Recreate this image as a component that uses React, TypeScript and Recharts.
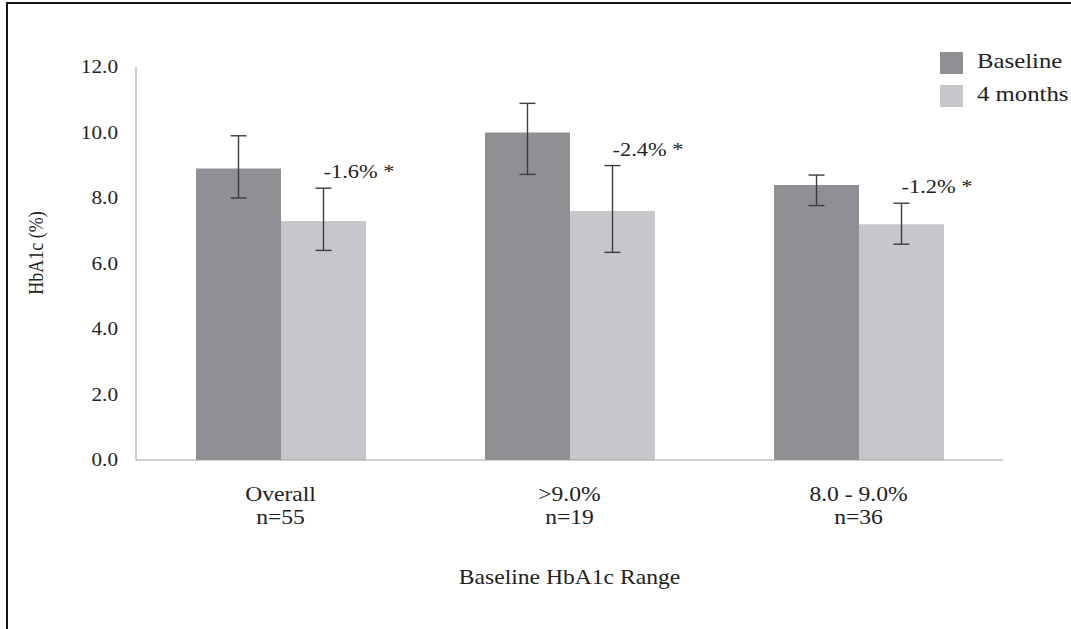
import React from 'react';
import { BarChart, Bar, XAxis, YAxis, ErrorBar, Legend, LabelList, Label } from 'recharts';

const categories = ['Overall', '>9.0%', '8.0 - 9.0%'];
const sampleSizes = ['n=55', 'n=19', 'n=36'];
const baselineValues = [8.9, 10.0, 8.4];
const baselineErrors: [number, number][] = [[0.9, 1.0], [1.28, 0.89], [0.63, 0.3]];
const monthValues = [7.3, 7.6, 7.2];
const monthErrors: [number, number][] = [[0.9, 1.0], [1.26, 1.39], [0.61, 0.64]];
const changeLabels = ['-1.6% *', '-2.4% *', '-1.2% *'];
const yTicks = [0, 2, 4, 6, 8, 10, 12];
const seriesNames = ['Baseline', '4 months'];

const BASE_COLOR = '#8f9094';
const MONTH_COLOR = '#c6c7ca';
const TEXT_COLOR = '#222';
const AXIS_COLOR = '#a0a0a0';
const ERR_COLOR = '#3c3c3c';
const FONT = '"Liberation Serif", "Times New Roman", serif';
const SX = 1.18;

const data = categories.map((c, i) => ({
  category: c,
  baseline: baselineValues[i],
  baseErr: baselineErrors[i],
  months: monthValues[i],
  monthErr: monthErrors[i],
}));

function STxt({ x, y, size, anchor, children }: any) {
  return (
    <text
      transform={`translate(${x},${y}) scale(${SX},1)`}
      x={0}
      y={0}
      textAnchor={anchor}
      fontFamily={FONT}
      fontSize={size}
      fill={TEXT_COLOR}
    >
      {children}
    </text>
  );
}

const YTick = (props: any) => {
  const { x, y, payload } = props;
  return <STxt x={x} y={y + 6} size={18} anchor="end">{Number(payload.value).toFixed(1)}</STxt>;
};

const XTick = (props: any) => {
  const { x, y, payload } = props;
  const idx = categories.indexOf(payload.value);
  return (
    <g>
      <STxt x={x} y={y + 41} size={20} anchor="middle">{payload.value}</STxt>
      <STxt x={x} y={y + 64} size={20} anchor="middle">{sampleSizes[idx]}</STxt>
    </g>
  );
};

const ChangeLabel = (props: any) => {
  const { x, y, width, height, value, index } = props;
  const pxPerUnit = height / value;
  const errTop = y - monthErrors[index][1] * pxPerUnit;
  return <STxt x={x + width / 2} y={errTop - 10} size={19} anchor="start">{changeLabels[index]}</STxt>;
};

const renderLegend = () => (
  <svg width={140} height={60} style={{ overflow: 'visible' }}>
    <rect x={0} y={0} width={23} height={22} fill={BASE_COLOR} />
    <STxt x={37} y={16} size={21} anchor="start">{seriesNames[0]}</STxt>
    <rect x={0} y={33} width={23} height={22} fill={MONTH_COLOR} />
    <STxt x={37} y={49} size={21} anchor="start">{seriesNames[1]}</STxt>
  </svg>
);

export default function App() {
  return (
    <div style={{ position: 'absolute', left: 0, top: 0, width: 1071, height: 629, background: '#fff', overflow: 'hidden' }}>
      <div
        style={{
          position: 'absolute',
          left: 6,
          top: 2,
          width: 1100,
          height: 700,
          borderTop: '2px solid #151515',
          borderLeft: '2px solid #151515',
        }}
      />
      <BarChart
        width={1071}
        height={629}
        data={data}
        margin={{ top: 67, right: 68, left: 0, bottom: 0 }}
        barGap={0}
        barSize={85}
      >
        <XAxis
          dataKey="category"
          height={169}
          tickLine={false}
          tickSize={0}
          tickMargin={0}
          stroke={AXIS_COLOR}
          tick={<XTick />}
          interval={0}
        >
          <Label
            content={(p: any) => {
              const vb = p.viewBox || {};
              return <STxt x={vb.x + vb.width / 2} y={584} size={20} anchor="middle">Baseline HbA1c Range</STxt>;
            }}
          />
        </XAxis>
        <YAxis
          width={136}
          domain={[0, 12]}
          ticks={yTicks}
          tickLine={false}
          tickSize={0}
          tickMargin={18}
          stroke={AXIS_COLOR}
          tick={<YTick />}
          interval={0}
        >
          <Label
            content={() => (
              <text
                transform={`translate(43,253) scale(${SX},1) rotate(-90)`}
                x={0}
                y={0}
                textAnchor="middle"
                fontFamily={FONT}
                fontSize={18}
                fill={TEXT_COLOR}
              >
                HbA1c (%)
              </text>
            )}
          />
        </YAxis>
        <Legend
          layout="vertical"
          align="center"
          verticalAlign="middle"
          content={renderLegend}
          wrapperStyle={{ left: 940, top: 52, width: 140, height: 60 }}
        />
        <Bar dataKey="baseline" name={seriesNames[0]} fill={BASE_COLOR} isAnimationActive={false}>
          <ErrorBar dataKey="baseErr" width={8} stroke={ERR_COLOR} strokeWidth={1.4} direction="y" />
        </Bar>
        <Bar dataKey="months" name={seriesNames[1]} fill={MONTH_COLOR} isAnimationActive={false}>
          <ErrorBar dataKey="monthErr" width={8} stroke={ERR_COLOR} strokeWidth={1.4} direction="y" />
          <LabelList dataKey="months" content={<ChangeLabel />} />
        </Bar>
      </BarChart>
    </div>
  );
}
